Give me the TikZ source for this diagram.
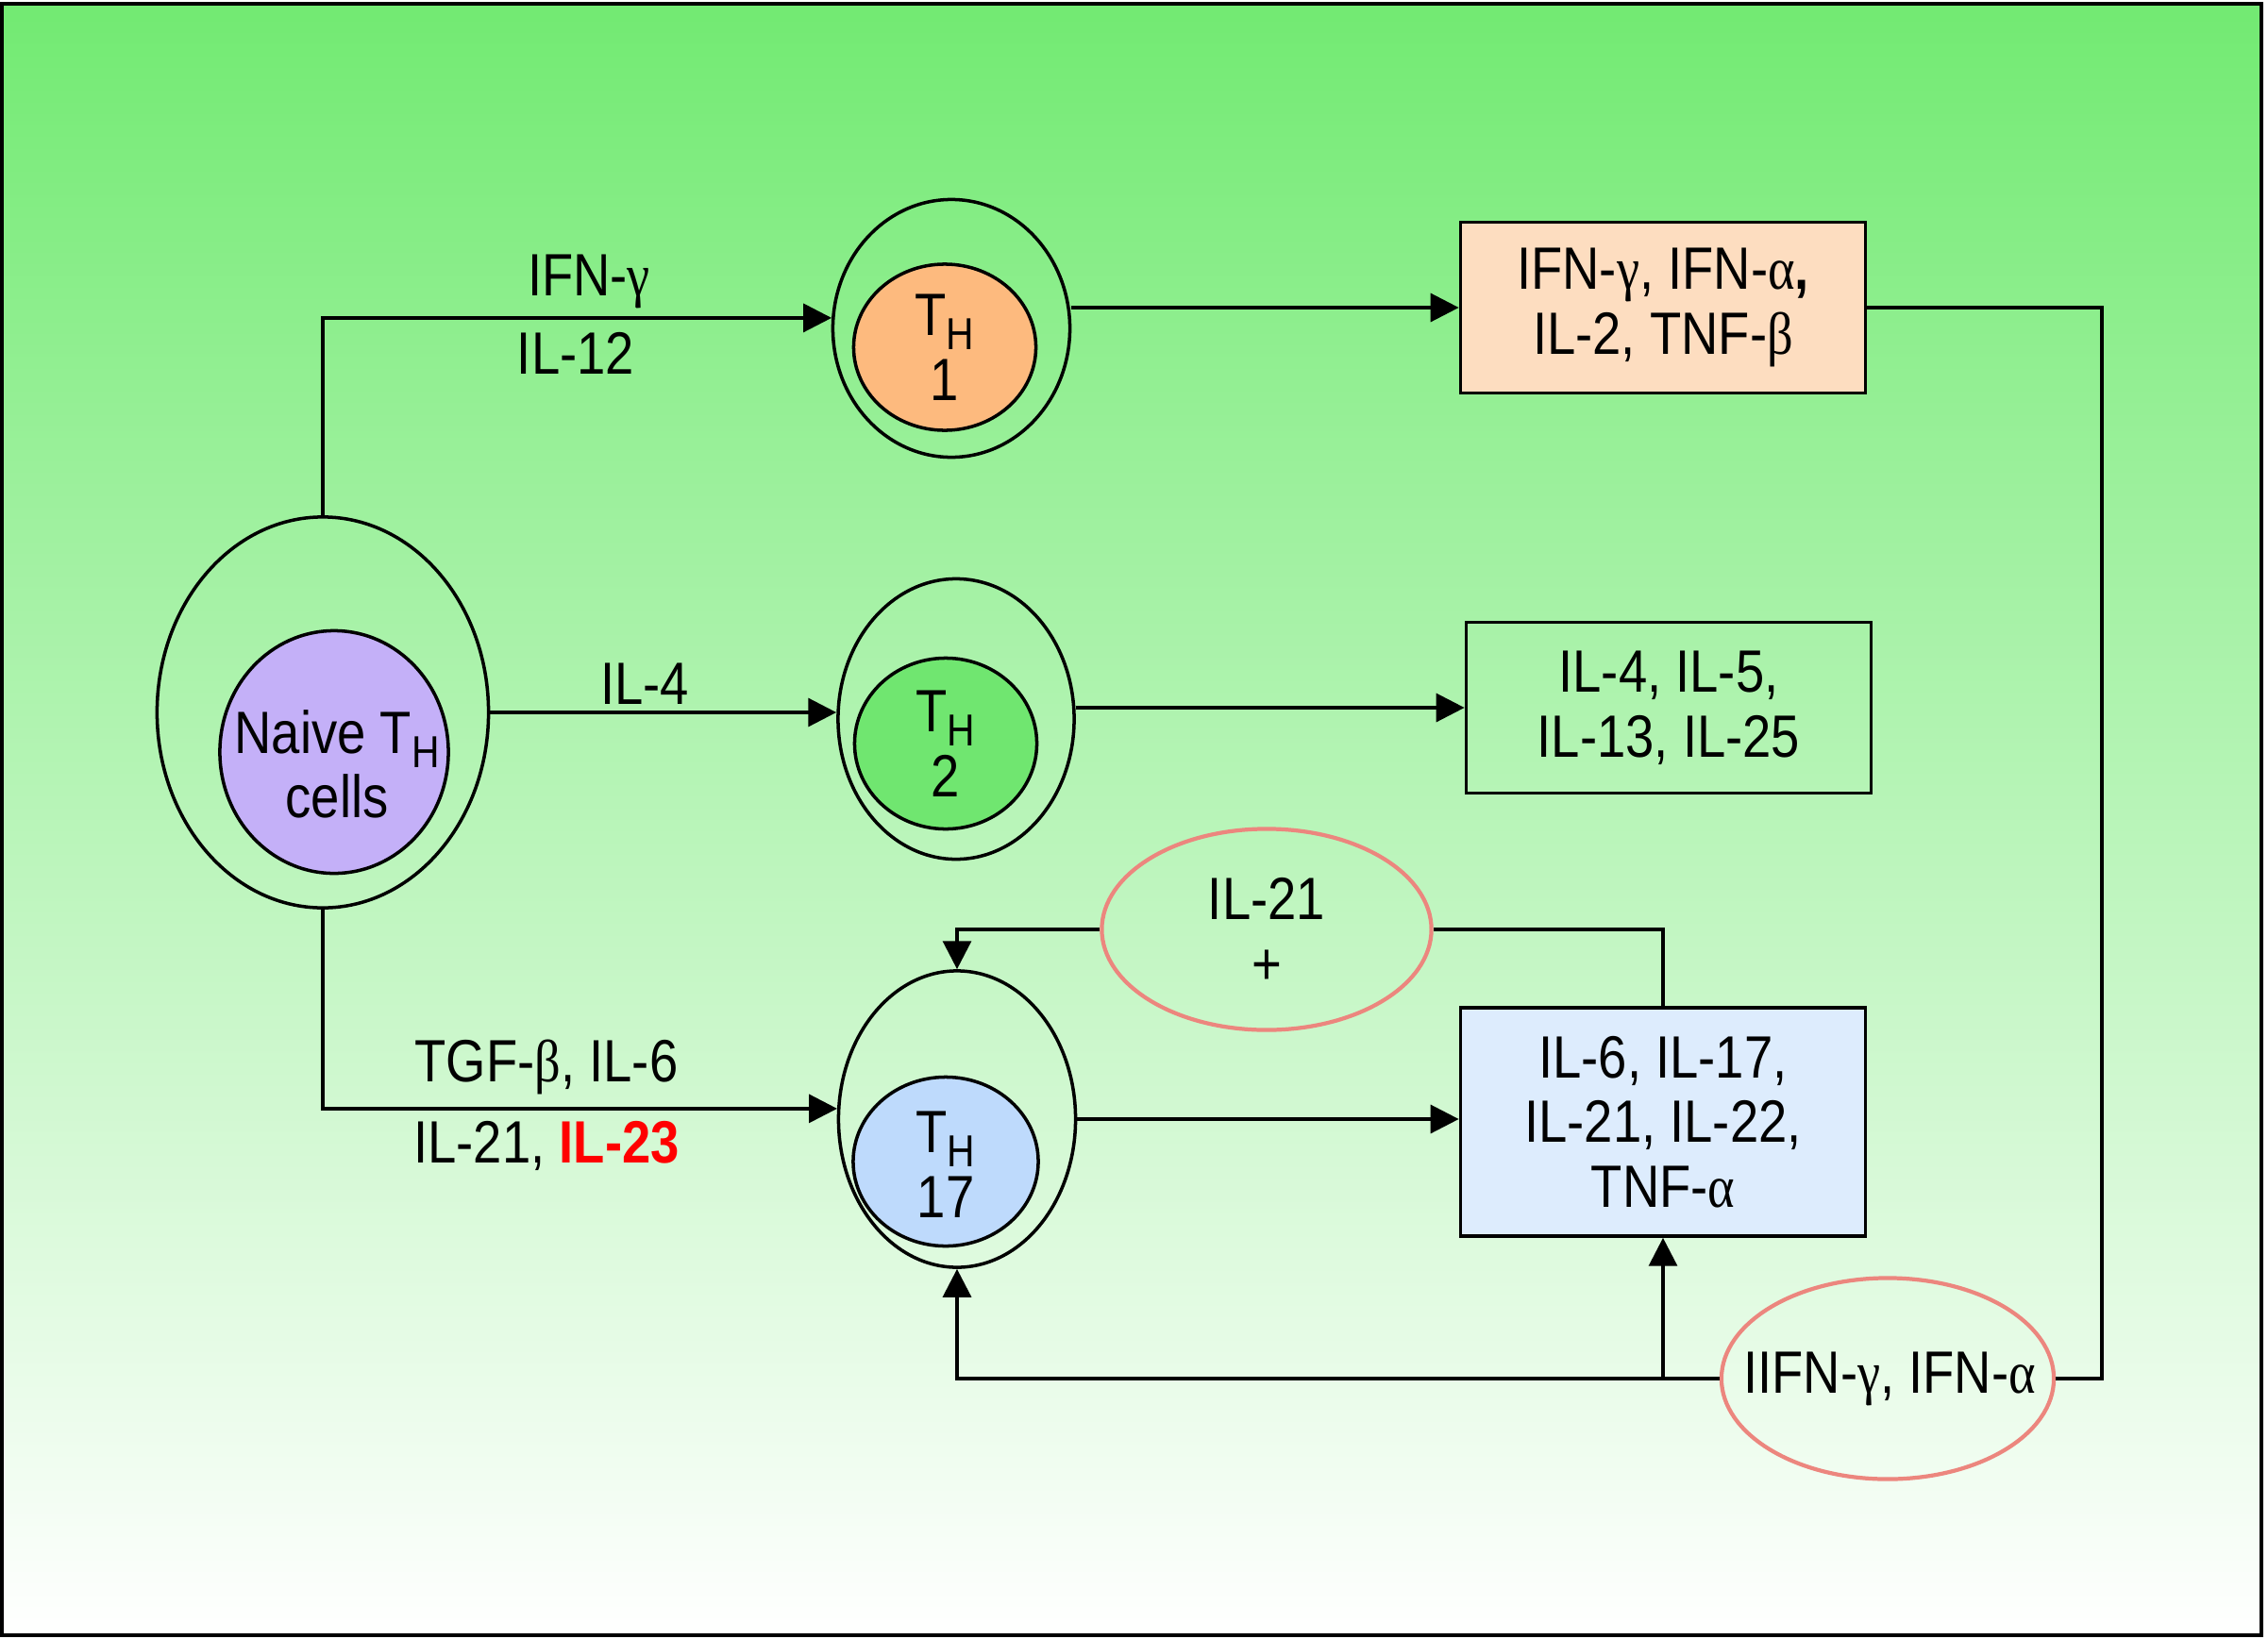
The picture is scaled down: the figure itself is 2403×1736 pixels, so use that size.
\documentclass[tikz,border=0pt]{standalone}
\usepackage{fontspec}
\setmainfont[FakeStretch=0.86]{Liberation Sans}
\newfontfamily\grk[FakeStretch=0.86]{Liberation Serif}
\usetikzlibrary{shapes.geometric,arrows.meta}

\newcommand{\Th}{T\raisebox{-0.45ex}{\fontsize{13.5}{13}\selectfont H}}
\newcommand{\gk}[1]{{\grk #1}}

\tikzset{every picture/.style={line width=1pt}}

\begin{document}
\begin{tikzpicture}[x=0.01cm,y=-0.01cm,
    font=\fontsize{18}{19.5}\selectfont,
    cell/.style={draw, ellipse, inner sep=0pt},
    nucleus/.style={draw, ellipse, inner sep=0pt},
    txt/.style={align=center, inner sep=0pt},
    outbox/.style={draw, rectangle, inner sep=0pt, align=center},
    cyto/.style={draw={rgb,255:red,236;green,134;blue,126}, line width=1.2pt, ellipse, inner sep=0pt},
    arr/.style={-{Triangle[length=8.5pt,width=8.5pt]}}]
    \useasboundingbox (0,0) rectangle (2403,1736);
    % background
    \shade[top color={rgb,255:red,114;green,234;blue,114}, bottom color=white] (2,4) rectangle (2396,1733);
    \draw[line width=1.2pt] (2,4) rectangle (2396,1733);

    % cells
    \node[cell, minimum width=3.51cm, minimum height=4.14cm] (naive) at (342,755) {};
    \node[nucleus, fill={rgb,255:red,196;green,176;blue,248}, minimum width=2.42cm, minimum height=2.57cm] (naiveN) at (354,797) {};
    \node[txt] (naiveT) at (357,810) {Naive \Th\\cells};
    \node[cell, minimum width=2.51cm, minimum height=2.73cm] (th1) at (1008,348) {};
    \node[nucleus, fill={rgb,255:red,253;green,186;blue,126}, minimum width=1.93cm, minimum height=1.76cm] (th1N) at (1001,368) {};
    \node[txt] (th1T) at (1001,368) {\Th\\1};
    \node[cell, minimum width=2.50cm, minimum height=2.97cm] (th2) at (1013,762) {};
    \node[nucleus, fill={rgb,255:red,112;green,230;blue,112}, minimum width=1.93cm, minimum height=1.81cm] (th2N) at (1002,788) {};
    \node[txt] (th2T) at (1002,788) {\Th\\2};
    \node[cell, minimum width=2.51cm, minimum height=3.14cm] (th17) at (1014,1186) {};
    \node[nucleus, fill={rgb,255:red,190;green,218;blue,252}, minimum width=1.96cm, minimum height=1.79cm] (th17N) at (1002,1231) {};
    \node[txt] (th17T) at (1002,1234) {\Th\\17};

    % products
    \node[outbox, fill={rgb,255:red,253;green,221;blue,192}, minimum width=4.29cm, minimum height=1.81cm] (box1) at (1762,326) {IFN-\gk{γ}, IFN-\gk{α}\textbf{,}\\IL-2, TNF-\gk{β}};
    \node[outbox, minimum width=4.29cm, minimum height=1.81cm] (box2) at (1768,750) {IL-4, IL-5,\\IL-13, IL-25};
    \node[outbox, fill={rgb,255:red,221;green,236;blue,253}, minimum width=4.29cm, minimum height=2.42cm] (box3) at (1762,1189) {IL-6, IL-17,\\IL-21, IL-22,\\TNF-\gk{α}};

    % feedback
    \node[cyto, minimum width=3.49cm, minimum height=2.13cm] (il21) at (1342,985) {};
    \node[txt] (il21T) at (1342,987) {IL-21\\+};
    \node[cyto, minimum width=3.52cm, minimum height=2.13cm] (ifn) at (2000,1461) {};
    \node[txt] (ifnT) at (2002,1461) {IIFN-\gk{γ}, IFN-\gk{α}};
    \coordinate (turn) at (2227,1461);

    % labels
    \node (lIFNg) at (624,298) {IFN-\gk{γ}};
    \node (lIL12) at (610,374) {IL-12};
    \node (lIL4) at (683,725) {IL-4};
    \node (lTGF) at (579,1131) {TGF-\gk{β}, IL-6};
    \node (lIL23) at (579,1214) {IL-21, \textcolor{red}{\textbf{IL-23}}};

    % connectors
    \draw[arr] (naive.north) |- (th1.175);
    \draw[arr] (naive.east) -- (naive.east -| th2.west);
    \draw[arr] (naive.south) |- (th17.175);
    \draw[arr] (box1.west -| th1.east) -- (box1.west);
    \draw[arr] (box2.west -| th2.east) -- (box2.west);
    \draw[arr] (th17.east) -- (th17.east -| box3.west);
    \draw (box3.north) |- (il21.east);
    \draw[arr] (il21.west) -| (th17.north);
    \draw[arr] (ifn.west) -| (th17.south);
    \draw[arr] (ifn.west -| box3.south) -- (box3.south);
    \draw (box1.east) -| (turn) -- (ifn.east);
\end{tikzpicture}
\end{document}
